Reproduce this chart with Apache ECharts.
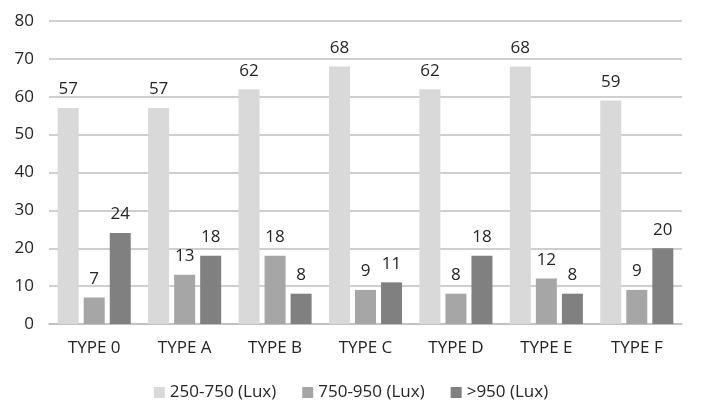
<!DOCTYPE html>
<html><head><meta charset="utf-8">
<script src="https://cdn.jsdelivr.net/npm/echarts@6/dist/echarts.min.js"></script>
<style>html,body{margin:0;padding:0;background:#fff}#c{width:702px;height:420px}</style>
</head><body><div id="c"></div>
<script>
const categories = ['TYPE 0','TYPE A','TYPE B','TYPE C','TYPE D','TYPE E','TYPE F'];
const seriesNames = ['250-750 (Lux)','750-950 (Lux)','>950 (Lux)'];
const lux250_750 = [57,57,62,68,62,68,59];
const lux750_950 = [7,13,18,9,8,12,9];
const luxOver950 = [24,18,8,11,18,8,20];
const colors = ['#d9d9d9','#a6a6a6','#808080'];
const font = 'Open Sans';
const chart = echarts.init(document.getElementById('c'), null, {renderer:'canvas'});
function mk(name, data, color){
  return {name, type:'bar', data, barWidth:21, barGap:'24%',
    itemStyle:{color},
    label:{show:true, position:'top', distance:10, color:'#262626', fontSize:17, fontFamily:font}};
}
chart.setOption({
  animation:false,
  textStyle:{fontFamily:font},
  grid:{left:49, right:20, top:21, bottom:96, containLabel:false},
  legend:{bottom:14, left:'center', itemWidth:11, itemHeight:11, itemGap:26, icon:'rect',
    textStyle:{fontSize:17, color:'#262626', fontFamily:font}, data:seriesNames},
  xAxis:{type:'category', data:categories,
    axisLine:{lineStyle:{color:'#bfbfbf', width:1.5}}, axisTick:{show:false},
    axisLabel:{fontSize:17, color:'#262626', margin:16, fontFamily:font}},
  yAxis:{type:'value', min:0, max:80, interval:10,
    axisLine:{show:false}, axisTick:{show:false},
    splitLine:{lineStyle:{color:'#bfbfbf', width:1.5}},
    axisLabel:{fontSize:17, color:'#262626', margin:15, fontFamily:font}},
  series:[mk(seriesNames[0], lux250_750, colors[0]), mk(seriesNames[1], lux750_950, colors[1]), mk(seriesNames[2], luxOver950, colors[2])]
});
</script></body></html>
